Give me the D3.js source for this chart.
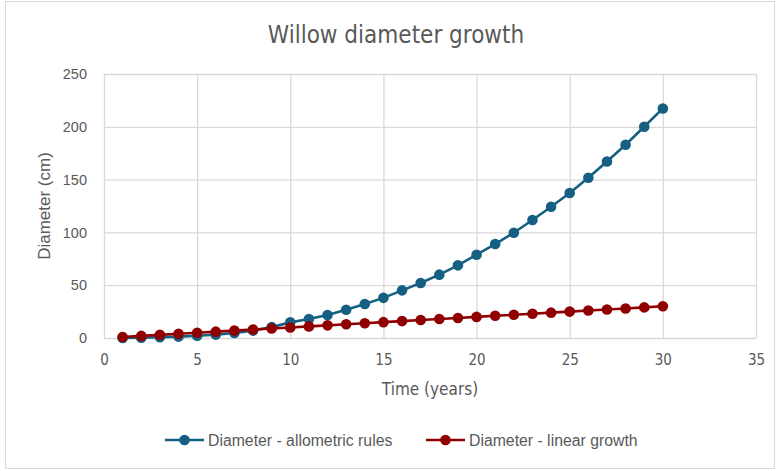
<!DOCTYPE html>
<html>
<head>
<meta charset="utf-8">
<script src="https://cdn.jsdelivr.net/npm/d3@7"></script>
<style>
  html, body { margin: 0; padding: 0; background: #fff; }
  svg { display: block; }
</style>
</head>
<body>
<script>
const years = d3.range(1, 31);
const allometric = [0.1, 0.3, 0.7, 1.3, 2.1, 3.2, 4.8, 7.0, 10.3, 14.8, 18.0, 21.8, 26.8, 32.2, 38.0, 45.1, 52.1, 60.0, 68.8, 78.9, 89.0, 99.7, 111.7, 124.3, 137.3, 151.8, 167.2, 183.0, 200.1, 217.4];
const linear = [1, 2, 3, 4, 5, 6, 7, 8, 9, 10, 11, 12, 13, 14, 15, 16, 17, 18, 19, 20, 21, 22, 23, 24, 25, 26, 27, 28, 29, 30];
const xTicks = [0, 5, 10, 15, 20, 25, 30, 35];
const yTicks = [0, 50, 100, 150, 200, 250];
const seriesNames = ["Diameter - allometric rules", "Diameter - linear growth"];
const seriesColors = ["#156082", "#900000"];
const title = "Willow diameter growth";
const xTitle = "Time (years)";
const yTitle = "Diameter (cm)";

const W = 777, H = 471;
const m = {left: 104, right: 21, top: 74, bottom: 133};
const narrow = "'Liberation Sans Narrow', 'DejaVu Sans Condensed', 'Roboto', sans-serif";
const regular = "'Liberation Sans', 'Roboto', sans-serif";
const textCol = "#595959";

const svg = d3.select("body").append("svg").attr("width", W).attr("height", H);
svg.append("rect").attr("x", 5.5).attr("y", 1.5).attr("width", W - 8).attr("height", H - 4)
  .attr("fill", "#fff").attr("stroke", "#d9d9d9").attr("stroke-width", 1);

const x = d3.scaleLinear().domain([0, 35]).range([m.left, W - m.right]);
const y = d3.scaleLinear().domain([0, 250]).range([H - m.bottom, m.top]);

// gridlines
const g = svg.append("g");
g.append("g").attr("transform", `translate(0,${y(0)})`)
  .call(d3.axisBottom(x).tickValues(xTicks).tickSize(-(y(0) - y(250))).tickFormat(""))
  .call(s => { s.select(".domain").remove(); s.selectAll("line").attr("stroke", "#d9d9d9").attr("stroke-width", 1.3); });
g.append("g").attr("transform", `translate(${x(0)},0)`)
  .call(d3.axisLeft(y).tickValues(yTicks).tickSize(-(x(35) - x(0))).tickFormat(""))
  .call(s => { s.select(".domain").remove(); s.selectAll("line").attr("stroke", "#d9d9d9").attr("stroke-width", 1.3); });

// tick labels
const xa = svg.append("g").attr("transform", `translate(0,${y(0)})`)
  .call(d3.axisBottom(x).tickValues(xTicks).tickSize(0).tickPadding(16));
xa.select(".domain").remove();
xa.selectAll("text").attr("font-family", narrow).attr("font-size", 15).attr("fill", textCol);

const ya = svg.append("g").attr("transform", `translate(${x(0)},0)`)
  .call(d3.axisLeft(y).tickValues(yTicks).tickSize(0).tickPadding(17));
ya.select(".domain").remove();
ya.selectAll("text").attr("font-family", regular).attr("font-size", 14.5).attr("fill", textCol);

// series
const data = [allometric, linear];
data.forEach((vals, i) => {
  const pts = years.map((yr, j) => [yr, vals[j]]);
  svg.append("path").datum(pts)
    .attr("fill", "none").attr("stroke", seriesColors[i]).attr("stroke-width", 2.6)
    .attr("d", d3.line().x(d => x(d[0])).y(d => y(d[1])));
  svg.append("g").selectAll("circle").data(pts).join("circle")
    .attr("cx", d => x(d[0])).attr("cy", d => y(d[1])).attr("r", 5.3)
    .attr("fill", seriesColors[i]);
});

// titles
svg.append("text").attr("x", 396).attr("y", 43).attr("text-anchor", "middle")
  .attr("font-family", narrow).attr("font-size", 24).attr("fill", textCol).text(title);
svg.append("text").attr("x", (x(0) + x(35)) / 2).attr("y", 395).attr("text-anchor", "middle")
  .attr("font-family", narrow).attr("font-size", 17).attr("fill", textCol).text(xTitle);
svg.append("text").attr("transform", `translate(50,${(y(0) + y(250)) / 2}) rotate(-90)`)
  .attr("text-anchor", "middle")
  .attr("font-family", regular).attr("font-size", 17).attr("fill", textCol).text(yTitle);

// legend
const legX = [165, 426];
seriesNames.forEach((name, i) => {
  const lg = svg.append("g").attr("transform", `translate(${legX[i]},440)`);
  lg.append("line").attr("x1", 0).attr("x2", 39).attr("y1", 0).attr("y2", 0)
    .attr("stroke", seriesColors[i]).attr("stroke-width", 2.6);
  lg.append("circle").attr("cx", 19.5).attr("cy", 0).attr("r", 5.3).attr("fill", seriesColors[i]);
  lg.append("text").attr("x", 43).attr("y", 5.5)
    .attr("font-family", regular).attr("font-size", 15.8).attr("fill", textCol).text(name);
});
</script>
</body>
</html>
